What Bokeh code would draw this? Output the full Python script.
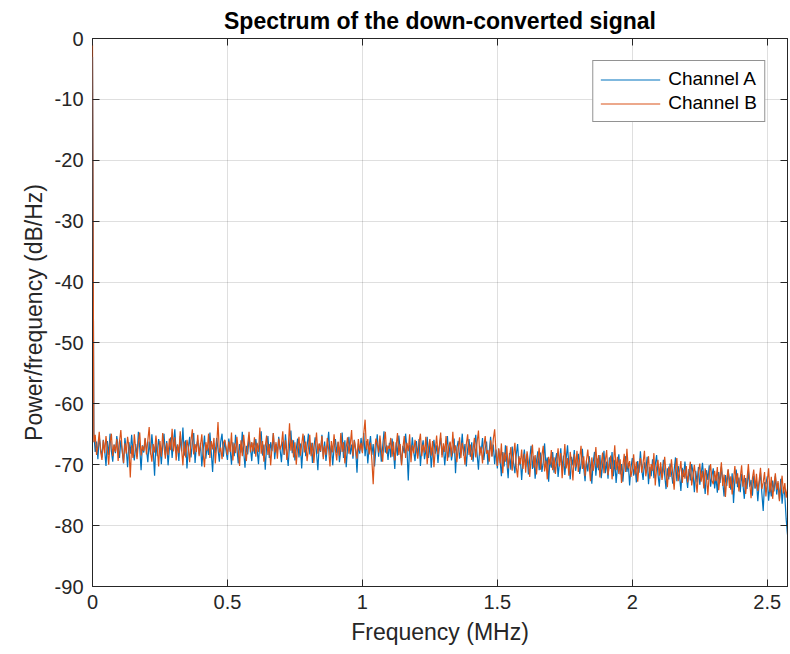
from bokeh.plotting import figure
from bokeh.models import Range1d, LinearAxis, FixedTicker, Legend, LegendItem
from bokeh.embed import file_html
from bokeh.resources import INLINE
import numpy as np

FREQ_STEP_MHZ = 0.005
x_ticks = [0, 0.5, 1, 1.5, 2, 2.5]
x_tick_labels = ["0", "0.5", "1", "1.5", "2", "2.5"]
y_ticks = [-90, -80, -70, -60, -50, -40, -30, -20, -10, 0]
y_tick_labels = ["-90", "-80", "-70", "-60", "-50", "-40", "-30", "-20", "-10", "0"]

channel_a = [
    -3.0, -64.8, -67.9, -66.2, -69.1, -65.4, -67.3, -68.8, -65.9, -67.6, -70.2, -66.1, -68.4, -64.9, -67.8, -69.5, -66.7, -68.1, -65.3, -67.0,
    -68.9, -66.0, -67.7, -69.8, -65.6, -67.4, -70.4, -66.3, -68.2, -65.1, -67.9, -69.3, -66.6, -68.7, -64.6, -67.2, -70.9, -66.8, -68.0, -65.7,
    -67.5, -69.6, -66.2, -68.3, -65.0, -67.7, -71.8, -66.4, -68.6, -65.8, -67.1, -69.9, -66.9, -64.9, -68.4, -66.1, -70.1, -67.3, -65.5, -68.9,
    -66.3, -64.2, -68.1, -66.7, -69.4, -65.3, -67.8, -63.9, -68.5, -66.0, -70.6, -67.2, -65.4, -68.8, -66.5, -64.8, -69.7, -67.0, -65.9, -68.3,
    -66.4, -70.3, -67.6, -65.2, -69.0, -66.8, -68.4, -64.7, -67.9, -71.2, -66.5, -68.1, -65.6, -67.4, -69.5, -66.2, -64.9, -68.7, -66.0, -67.8,
    -69.2, -65.7, -67.5, -70.0, -66.3, -68.6, -65.1, -67.3, -69.8, -66.6, -68.0, -64.6, -67.7, -70.5, -66.9, -68.3, -65.5, -67.1, -69.4, -66.4,
    -68.2, -65.8, -67.6, -69.9, -66.1, -64.5, -68.5, -66.7, -70.8, -67.0, -65.3, -68.9, -66.3, -67.8, -64.8, -69.1, -66.6, -68.0, -65.4, -67.5,
    -69.6, -66.2, -68.4, -65.0, -67.9, -70.2, -66.8, -64.4, -68.1, -66.0, -69.3, -67.4, -65.7, -68.8, -66.5, -70.6, -67.1, -65.2, -68.6, -66.9,
    -64.9, -68.3, -66.4, -69.7, -67.2, -65.5, -68.0, -70.9, -66.6, -67.9, -65.1, -68.7, -66.2, -69.4, -67.0, -64.6, -68.5, -66.8, -70.1, -67.3,
    -65.8, -68.1, -66.3, -69.6, -67.5, -64.7, -68.9, -66.0, -70.4, -67.2, -65.4, -68.3, -66.7, -69.0, -65.9, -67.6, -71.3, -66.5, -68.2, -65.6,
    -67.9, -64.8, -68.6, -66.1, -69.8, -67.0, -65.3, -68.4, -66.6, -70.3, -67.4, -65.0, -68.7, -66.2, -69.5, -67.1, -64.5, -68.0, -66.8, -69.2,
    -66.4, -68.8, -65.7, -67.8, -70.7, -66.3, -68.5, -65.2, -67.6, -69.9, -66.9, -68.1, -64.9, -67.4, -72.6, -66.7, -68.3, -65.5, -67.9, -69.4,
    -66.1, -68.6, -65.8, -70.2, -67.3, -66.0, -69.1, -67.7, -65.4, -68.9, -66.5, -70.5, -67.8, -65.9, -68.2, -66.8, -69.7, -67.1, -65.6, -68.4,
    -66.9, -70.1, -67.5, -65.3, -68.8, -66.4, -69.3, -67.9, -65.7, -71.4, -67.2, -66.1, -69.0, -67.6, -64.9, -68.5, -66.6, -70.3, -67.4, -65.8,
    -68.7, -66.3, -69.5, -67.0, -65.1, -68.3, -70.8, -66.9, -68.0, -65.6, -69.2, -67.3, -66.2, -70.0, -67.8, -65.4, -68.6, -66.7, -69.9, -67.5,
    -70.6, -67.4, -69.2, -71.9, -67.9, -70.3, -66.8, -69.5, -72.2, -68.1, -70.8, -67.0, -69.7, -71.4, -68.4, -66.6, -70.1, -68.9, -72.5, -69.3,
    -67.5, -70.4, -68.2, -71.6, -69.0, -66.9, -70.7, -68.6, -72.3, -69.4, -67.8, -70.9, -68.0, -71.2, -69.6, -66.5, -70.2, -68.8, -72.8, -69.1,
    -70.5, -67.9, -71.3, -69.2, -68.1, -72.0, -69.7, -67.3, -70.8, -68.5, -71.7, -69.0, -66.8, -70.3, -72.4, -68.7, -70.1, -67.6, -71.0, -69.5,
    -68.2, -71.5, -69.9, -67.4, -70.6, -72.7, -69.3, -71.1, -68.6, -70.2, -73.1, -69.6, -67.9, -71.8, -69.0, -70.9, -68.4, -72.2, -70.0, -67.7,
    -71.4, -69.5, -72.3, -68.8, -70.7, -67.9, -71.9, -69.2, -73.0, -70.4, -68.3, -71.6, -69.9, -72.8, -70.1, -68.6, -71.2, -69.7, -73.4, -70.5,
    -68.9, -71.8, -70.2, -72.9, -69.4, -71.3, -67.8, -70.8, -72.5, -69.6, -71.1, -68.7, -73.2, -70.4, -71.9, -69.1, -72.2, -70.0, -68.4, -71.5,
    -73.6, -70.3, -72.1, -69.2, -71.7, -74.0, -70.6, -72.4, -69.8, -71.4, -73.1, -70.9, -68.8, -72.7, -70.2, -71.8, -74.3, -70.5, -72.0, -69.5,
    -71.9, -73.8, -70.7, -72.6, -69.9, -71.3, -74.5, -71.0, -72.9, -70.4, -73.3, -71.6, -69.7, -72.2, -74.8, -70.9, -72.5, -70.1, -73.6, -71.8,
    -70.6, -73.9, -72.0, -74.6, -71.2, -73.0, -70.3, -72.8, -75.2, -71.7, -73.5, -70.9, -72.4, -74.1, -71.4, -76.3, -72.6, -70.8, -73.7, -72.1,
    -74.5, -71.5, -73.3, -75.6, -72.2, -74.0, -70.9, -73.6, -72.5, -75.1, -71.8, -73.9, -72.7, -76.0, -73.1, -71.3, -74.7, -77.6, -72.9, -73.2,
    -71.9, -75.9, -73.5, -75.2, -72.6, -74.4, -71.8, -74.9, -73.0, -75.7, -72.3, -76.4, -73.8, -75.0, -78.9, -81.5,
]

channel_b = [
    -1.0, -66.3, -65.1, -68.4, -66.9, -64.6, -67.8, -69.2, -66.0, -68.1, -65.3, -67.5, -70.0, -66.4, -64.9, -68.6, -66.7, -67.9, -65.8, -69.4,
    -66.2, -64.3, -67.6, -69.7, -66.5, -68.2, -65.4, -67.1, -72.1, -66.8, -68.9, -65.0, -67.4, -69.1, -66.3, -64.7, -68.5, -66.9, -67.7, -65.6,
    -68.3, -66.0, -63.8, -67.9, -69.5, -66.6, -68.0, -65.2, -67.3, -70.3, -66.1, -68.7, -64.8, -67.0, -69.0, -66.4, -68.4, -65.7, -67.6, -64.1,
    -67.8, -65.5, -69.3, -66.7, -68.1, -64.5, -67.4, -70.1, -66.2, -68.8, -65.9, -67.2, -69.6, -66.0, -64.2, -68.3, -66.6, -67.9, -65.1, -68.6,
    -66.9, -65.0, -68.2, -70.4, -66.3, -67.7, -64.9, -68.9, -66.1, -67.5, -65.6, -69.8, -66.8, -63.0, -68.0, -67.2, -69.1, -66.4, -65.9, -67.1,
    -68.4, -66.2, -67.9, -64.7, -69.3, -66.5, -68.1, -65.4, -67.6, -70.2, -66.0, -68.6, -65.1, -67.3, -69.4, -66.7, -64.6, -68.0, -66.3, -67.8,
    -65.5, -68.7, -66.4, -67.9, -63.9, -68.2, -66.1, -69.5, -67.0, -65.2, -68.4, -66.6, -70.1, -67.2, -64.8, -68.0, -66.3, -69.0, -65.7, -67.5,
    -66.8, -64.5, -68.3, -66.0, -69.2, -67.4, -63.2, -67.7, -65.9, -68.8, -66.3, -70.0, -67.1, -65.4, -68.5, -66.7, -64.9, -68.0, -66.2, -69.4,
    -67.3, -65.1, -68.6, -66.4, -69.7, -67.0, -64.7, -68.2, -66.5, -67.8, -65.3, -69.1, -66.9, -68.4, -65.6, -67.5, -70.3, -66.1, -68.0, -65.0,
    -67.6, -69.3, -66.2, -68.5, -64.8, -67.9, -66.3, -69.8, -67.1, -65.5, -68.2, -66.7, -64.3, -68.6, -66.0, -67.4, -69.0, -65.8, -67.7, -66.4,
    -68.1, -64.9, -62.6, -67.5, -65.8, -68.3, -66.4, -69.2, -73.2, -67.9, -65.7, -66.5, -68.0, -65.2, -67.6, -69.5, -66.3, -64.6, -68.2, -66.9,
    -67.4, -65.6, -68.7, -66.2, -69.3, -67.0, -64.8, -68.4, -66.6, -70.1, -67.3, -65.3, -68.9, -66.4, -67.8, -65.0, -69.6, -66.8, -68.1, -65.9,
    -67.5, -69.0, -66.3, -64.9, -68.6, -66.7, -68.0, -65.4, -69.9, -67.2, -65.8, -68.5, -66.1, -70.4, -67.6, -65.2, -68.3, -66.9, -64.7, -68.8,
    -66.5, -67.9, -65.3, -69.4, -67.0, -66.2, -68.7, -64.6, -68.1, -66.8, -69.6, -67.3, -65.5, -68.9, -66.4, -67.7, -70.0, -66.6, -65.0, -68.4,
    -66.7, -69.2, -67.4, -65.6, -68.8, -66.3, -64.4, -68.5, -67.1, -69.8, -66.9, -65.3, -68.2, -67.6, -69.5, -66.0, -68.7, -65.8, -64.2, -67.9,
    -70.2, -67.3, -69.8, -66.5, -71.4, -68.0, -69.5, -66.9, -70.6, -68.7, -67.1, -71.0, -68.3, -66.4, -70.4, -72.1, -68.6, -69.9, -67.5, -70.7,
    -68.2, -71.3, -67.8, -69.6, -72.0, -68.9, -66.7, -70.5, -68.4, -71.6, -69.1, -67.2, -70.8, -68.5, -66.9, -71.1, -69.3, -72.4, -68.7, -70.0,
    -67.6, -70.9, -68.8, -71.5, -69.5, -67.3, -70.3, -68.1, -72.2, -69.7, -66.6, -70.6, -68.9, -71.8, -67.9, -69.8, -72.6, -68.3, -70.4, -67.7,
    -71.2, -69.0, -66.9, -70.7, -68.6, -71.9, -69.4, -67.5, -70.1, -72.7, -68.8, -71.0, -69.6, -67.1, -70.5, -68.4, -72.1, -69.9, -68.0, -71.4,
    -69.3, -67.6, -71.7, -70.0, -68.5, -72.4, -69.8, -66.8, -70.9, -68.7, -71.5, -69.1, -73.0, -70.3, -68.2, -71.2, -67.4, -70.6, -69.4, -72.0,
    -70.7, -68.3, -71.6, -69.5, -72.8, -70.1, -68.9, -71.3, -69.7, -67.7, -71.9, -70.4, -68.6, -72.3, -69.9, -71.0, -68.1, -73.4, -70.5, -69.2,
    -71.8, -69.6, -72.5, -70.9, -68.7, -71.4, -73.7, -70.3, -72.0, -69.1, -71.6, -74.1, -70.6, -68.9, -72.7, -71.1, -69.4, -73.0, -70.8, -72.3,
    -70.2, -72.9, -71.3, -69.5, -73.4, -71.7, -70.0, -72.4, -74.6, -71.2, -69.8, -72.8, -71.0, -73.9, -70.6, -72.1, -75.0, -71.5, -69.9, -72.6,
    -73.2, -71.0, -72.7, -70.4, -74.2, -72.0, -69.6, -73.5, -71.6, -75.3, -72.3, -70.7, -73.8, -71.9, -74.9, -72.5, -70.2, -73.1, -71.4, -74.4,
    -72.1, -70.1, -73.6, -71.7, -74.8, -72.4, -69.9, -73.0, -75.5, -72.2, -70.8, -73.9, -71.5, -74.3, -72.6, -70.5, -74.0, -72.9, -71.2, -75.2,
    -72.8, -70.6, -74.5, -72.0, -75.6, -73.3, -71.4, -74.1, -72.7, -76.0, -73.6, -71.8, -74.7, -73.0, -75.4, -73.9,
]

freq_a = np.arange(len(channel_a)) * FREQ_STEP_MHZ
freq_b = np.arange(len(channel_b)) * FREQ_STEP_MHZ

FONT = "Liberation Sans"
DARK = "#262626"

p = figure(width=790, height=654, output_backend="svg", toolbar_location=None,
           x_range=Range1d(0, 2.575), y_range=Range1d(-90, 0),
           min_border_left=92, min_border_right=3, min_border_top=38, min_border_bottom=68,
           background_fill_color="white", border_fill_color="white",
           title="Spectrum of the down-converted signal")

p.title.text_font = FONT
p.title.text_font_size = "23px"
p.title.text_font_style = "bold"
p.title.text_color = "black"
p.title.align = "center"

ra = p.line(freq_a, channel_a, line_color="#0072BD", line_width=1.2)
rb = p.line(freq_b, channel_b, line_color="#D95319", line_width=1.2)

def style_axis(ax, ticks, labels, show_labels):
    ax.ticker = FixedTicker(ticks=ticks)
    ax.major_tick_in = 7
    ax.major_tick_out = 0
    ax.minor_tick_line_color = None
    ax.axis_line_color = DARK
    ax.major_tick_line_color = DARK
    ax.axis_line_width = 1
    ax.major_label_text_font = FONT
    if show_labels:
        ax.major_label_overrides = {t: l for t, l in zip(ticks, labels)}
        ax.major_label_text_color = DARK
        ax.major_label_text_font_size = "20px"
    else:
        ax.major_label_text_color = None
        ax.major_label_text_font_size = "1px"
        ax.major_label_standoff = 0

xa = p.xaxis[0]
ya = p.yaxis[0]
style_axis(xa, x_ticks, x_tick_labels, True)
style_axis(ya, y_ticks, y_tick_labels, True)
# the left frame edge comes from the outline so the DC spike stays visible over it
ya.axis_line_color = None
xa.major_label_standoff = 8
ya.major_label_standoff = 9
xa.axis_label = "Frequency (MHz)"
ya.axis_label = "Power/frequency (dB/Hz)"
for ax in (xa, ya):
    ax.axis_label_text_font = FONT
    ax.axis_label_text_font_size = "23px"
    ax.axis_label_text_font_style = "normal"
    ax.axis_label_text_color = DARK
xa.axis_label_standoff = 7
ya.axis_label_standoff = 5

top_ax = LinearAxis()
right_ax = LinearAxis()
style_axis(top_ax, x_ticks, x_tick_labels, False)
style_axis(right_ax, y_ticks, y_tick_labels, False)
p.add_layout(top_ax, "above")
p.add_layout(right_ax, "right")

p.xgrid.ticker = FixedTicker(ticks=x_ticks)
p.ygrid.ticker = FixedTicker(ticks=y_ticks)
p.grid.grid_line_color = DARK
p.grid.grid_line_alpha = 0.15
p.outline_line_color = DARK

legend = Legend(items=[LegendItem(label="Channel A", renderers=[ra]),
                       LegendItem(label="Channel B", renderers=[rb])],
                location="top_right")
legend.margin = 22
legend.padding = 7
legend.spacing = 2
legend.glyph_width = 60
legend.glyph_height = 21
legend.label_standoff = 8
legend.label_text_font = FONT
legend.label_text_font_size = "19px"
legend.label_text_color = "black"
legend.border_line_color = DARK
legend.border_line_width = 1
legend.background_fill_alpha = 1
p.add_layout(legend, "center")

open("out.html", "w").write(file_html(p, INLINE))
